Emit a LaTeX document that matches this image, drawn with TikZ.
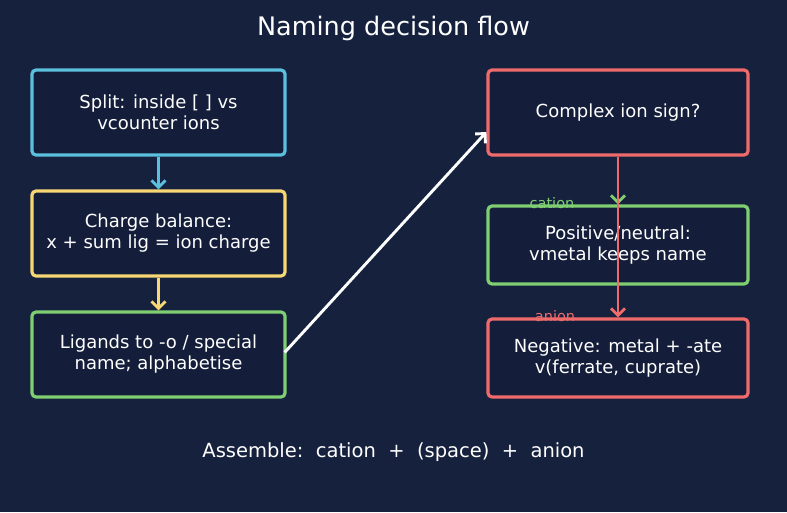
\documentclass[tikz,border=0pt]{standalone}
\usepackage{fontspec}
\setmainfont{DejaVu Sans}
\usetikzlibrary{arrows.meta}
\definecolor{bg}{HTML}{16213E}
\definecolor{boxfill}{HTML}{141E3A}
\definecolor{ccyan}{HTML}{5BC0DE}
\definecolor{cyellow}{HTML}{F7D774}
\definecolor{cgreen}{HTML}{7FCF72}
\definecolor{cred}{HTML}{EF6B6B}
\tikzset{
  box/.style={draw=#1, line width=3.2pt, rounded corners=4pt, fill=boxfill,
    text=white, align=center, font=\fontsize{18}{21}\selectfont, inner sep=0pt},
  conn/.style={draw=#1, line width=2.9pt, -{Straight Barb[length=7pt,width=14pt,line width=2.9pt]}},
  lbl/.style={font=\fontsize{14.5}{17}\selectfont, text=#1},
}
\begin{document}
\begin{tikzpicture}[x=1pt,y=-1pt]
\fill[bg] (0,0) rectangle (787,512);
\useasboundingbox (0,0) rectangle (787,512);
\node[text=white, font=\fontsize{25.5}{30}\selectfont] (title) at (393.5,28) {Naming decision flow};
\node[box=ccyan, minimum width=253pt, minimum height=85pt] (split) at (158.5,112.5) {Split: inside [ ] vs\\vcounter ions};
\node[box=cyellow, minimum width=253pt, minimum height=85pt] (charge) at (158.5,233.5) {Charge balance:\\x + sum lig = ion charge};
\node[box=cgreen, minimum width=253pt, minimum height=85pt] (lig) at (158.5,354.5) {Ligands to -o / special\\name; alphabetise};
\node[box=cred, minimum width=260pt, minimum height=85pt] (sign) at (618,112.5) {Complex ion sign?};
\node[box=cgreen, minimum width=260pt, minimum height=78pt] (pos) at (618,245) {Positive/neutral:\\vmetal keeps name};
\node[box=cred, minimum width=260pt, minimum height=78pt] (neg) at (618,358) {Negative: metal + -ate\\v(ferrate, cuprate)};
\draw[conn=ccyan] (split.south) -- (charge.north);
\draw[conn=cyellow] (charge.south) -- (lig.north);
\draw[conn=white] ([xshift=-2pt,yshift=2pt]lig.east) -- ([yshift=-19.5pt]sign.west);
\draw[conn=cgreen] (sign.south) -- (pos.north);
\draw[conn=cred] (sign.south) -- (neg.north);
\node[lbl=cgreen] (lcat) at (552,203) {cation};
\node[lbl=cred] (lan) at (555,316) {anion};
\node[text=white, font=\fontsize{19.5}{23}\selectfont] (assemble) at (393.5,452) {Assemble:\ \ cation\ \ +\ \ (space)\ \ +\ \ anion};
\end{tikzpicture}
\end{document}
